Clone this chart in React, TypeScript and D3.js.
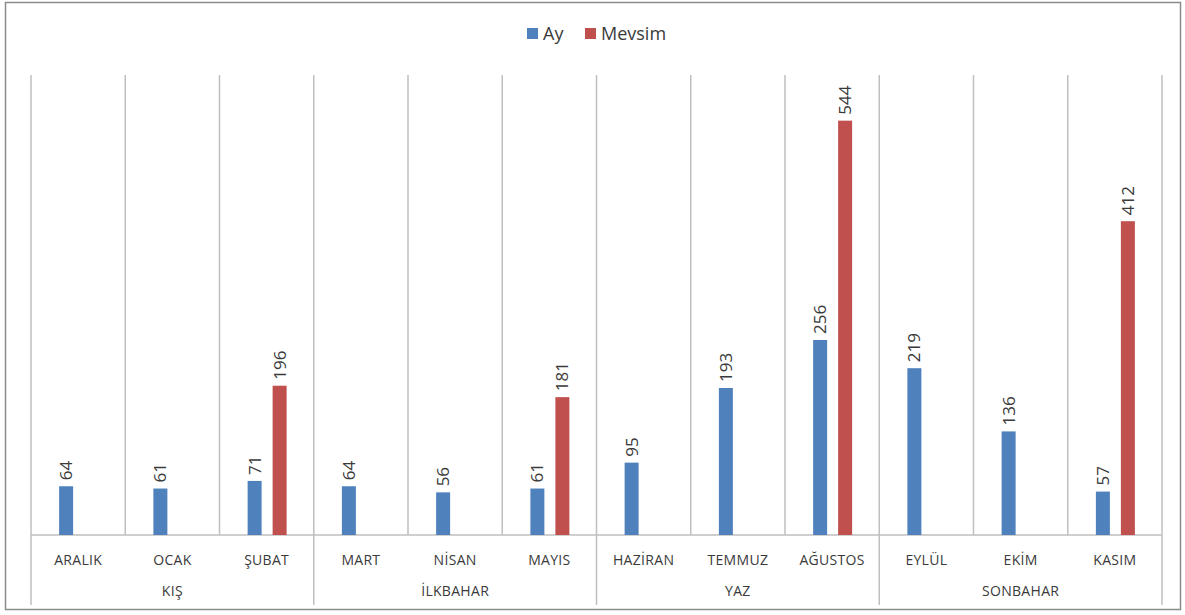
import React from "react";
import * as d3 from "d3";

const months = ["ARALIK", "OCAK", "ŞUBAT", "MART", "NİSAN", "MAYIS", "HAZİRAN", "TEMMUZ", "AĞUSTOS", "EYLÜL", "EKİM", "KASIM"];
const seasons = ["KIŞ", "İLKBAHAR", "YAZ", "SONBAHAR"];
const ayValues = [64, 61, 71, 64, 56, 61, 95, 193, 256, 219, 136, 57];
const mevsimValues: (number | null)[] = [null, null, 196, null, null, 181, null, null, 544, null, null, 412];
const seriesNames = ["Ay", "Mevsim"];
const colors = ["#4F81BD", "#C0504D"];

const W = 1185, H = 615;
const left = 31, right = 1162, top = 78, base = 535;

export default function App() {
  const x = d3.scaleBand<string>().domain(months).range([left, right]).paddingInner(0).paddingOuter(0);
  const y = d3.scaleLinear().domain([0, 600]).range([base, top]);
  const bw = 14;
  const offA = x.bandwidth() / 2 - 19;
  const offB = x.bandwidth() / 2 + 6;
  const grid = "#BFBFBF";
  const txt = "#3a3a3a";
  const font = "'Open Sans', 'Liberation Sans', sans-serif";
  const bounds = months.map((m) => x(m)!).concat([right]);

  return (
    <svg width={W} height={H} style={{ position: "absolute", left: 0, top: 0, background: "#fff" }} fontFamily={font}>
      <rect x={5.5} y={2.5} width={1175} height={607} fill="#fff" stroke="#8c8c8c" strokeWidth={1.5} />
      {/* legend */}
      <g>
        <rect x={527} y={28} width={11} height={11} fill={colors[0]} />
        <text x={543} y={40} fontSize={18} fill={txt}>{seriesNames[0]}</text>
        <rect x={585} y={28} width={11} height={11} fill={colors[1]} />
        <text x={601} y={40} fontSize={18} fill={txt}>{seriesNames[1]}</text>
      </g>
      {/* vertical gridlines */}
      {bounds.map((bx, i) => (
        <line key={"g" + i} x1={bx} x2={bx} y1={top - 3} y2={i % 3 === 0 ? 605 : base} stroke={grid} strokeWidth={1.5} />
      ))}
      {/* baseline */}
      <line x1={left} x2={right} y1={base} y2={base} stroke={grid} strokeWidth={1.5} />
      {/* bars */}
      {months.map((m, i) => (
        <g key={"b" + i}>
          <rect x={x(m)! + offA} y={y(ayValues[i])} width={bw} height={base - y(ayValues[i])} fill={colors[0]} />
          <text transform={`translate(${x(m)! + offA + bw / 2 + 6},${y(ayValues[i]) - 6}) rotate(-90)`} fontSize={17} fill={txt}>{ayValues[i]}</text>
          {mevsimValues[i] != null && (
            <>
              <rect x={x(m)! + offB} y={y(mevsimValues[i]!)} width={bw} height={base - y(mevsimValues[i]!)} fill={colors[1]} />
              <text transform={`translate(${x(m)! + offB + bw / 2 + 6},${y(mevsimValues[i]!) - 6}) rotate(-90)`} fontSize={17} fill={txt}>{mevsimValues[i]}</text>
            </>
          )}
        </g>
      ))}
      {/* month labels */}
      {months.map((m, i) => (
        <text key={"m" + i} x={x(m)! + x.bandwidth() / 2} y={565} textAnchor="middle" fontSize={14} fill={txt} letterSpacing={0.3}>{m}</text>
      ))}
      {/* season labels */}
      {seasons.map((s, i) => (
        <text key={"s" + i} x={(bounds[i * 3] + bounds[i * 3 + 3]) / 2} y={596} textAnchor="middle" fontSize={14} fill={txt} letterSpacing={0.3}>{s}</text>
      ))}
    </svg>
  );
}
